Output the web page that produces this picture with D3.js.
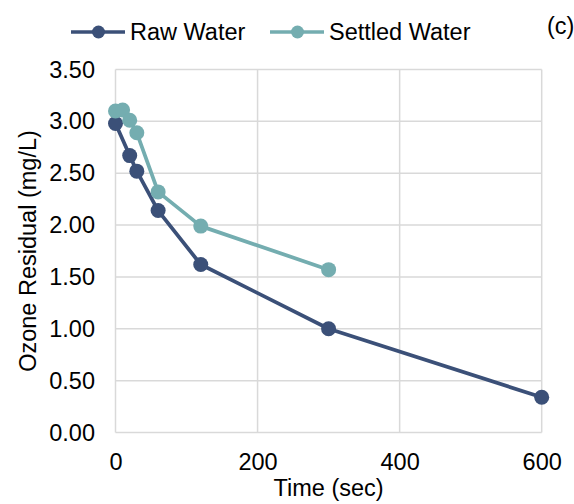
<!DOCTYPE html>
<html>
<head>
<meta charset="utf-8">
<script src="https://cdn.jsdelivr.net/npm/d3@7"></script>
<style>
  body { margin: 0; background: #fff; }
  svg { font-family: "Liberation Sans", Arial, sans-serif; }
</style>
</head>
<body>
<svg id="chart"></svg>
<script>
// data
const RAW_TIME = [0, 20, 30, 60, 120, 300, 600];
const RAW_VALUE = [2.98, 2.67, 2.52, 2.14, 1.62, 1.00, 0.34];
const SETTLED_TIME = [0, 10, 20, 30, 60, 120, 300];
const SETTLED_VALUE = [3.10, 3.11, 3.01, 2.89, 2.32, 1.99, 1.57];
const X_TICKS = [0, 200, 400, 600];
const Y_TICKS = [0, 0.5, 1, 1.5, 2, 2.5, 3, 3.5];

const SERIES = [
    {name: 'Raw Water', color: '#3b5078', pts: RAW_TIME.map((t, i) => ({t, v: RAW_VALUE[i]}))},
    {name: 'Settled Water', color: '#74adb0', pts: SETTLED_TIME.map((t, i) => ({t, v: SETTLED_VALUE[i]}))}
];

const WIDTH = 574, HEIGHT = 504;
const M = {left: 115.5, right: 574 - 541.7, top: 69.5, bottom: 504 - 432.5};
const FONT = 23.5;

const svg = d3.select('#chart').attr('width', WIDTH).attr('height', HEIGHT);

/* ************** SCALES ************** */
const x = d3.scaleLinear().domain([0, 600]).range([M.left, WIDTH - M.right]);
const y = d3.scaleLinear().domain([0, 3.5]).range([HEIGHT - M.bottom, M.top]);

/* ************** GRID ************** */
const grid = svg.append('g').attr('stroke', '#d9d9d9').attr('stroke-width', 1.5);
grid.selectAll('.hgrid').data(Y_TICKS).enter().append('line')
    .attr('x1', x(0)).attr('x2', x(600))
    .attr('y1', d => y(d)).attr('y2', d => y(d));
grid.selectAll('.vgrid').data(X_TICKS).enter().append('line')
    .attr('y1', y(0)).attr('y2', y(3.5))
    .attr('x1', d => x(d)).attr('x2', d => x(d));

/* ************** AXES ************** */
const yAxis = svg.append('g')
    .attr('transform', `translate(${x(0)},0)`)
    .call(d3.axisLeft(y).tickValues(Y_TICKS).tickFormat(d3.format('.2f')).tickSize(0).tickPadding(20.5));
const xAxis = svg.append('g')
    .attr('transform', `translate(0,${y(0)})`)
    .call(d3.axisBottom(x).tickValues(X_TICKS).tickFormat(d3.format('d')).tickSize(0).tickPadding(20.5));
[xAxis, yAxis].forEach(a => {
    a.select('.domain').remove();
    a.attr('font-size', FONT).attr('font-family', '"Liberation Sans", Arial, sans-serif');
    a.selectAll('text').attr('fill', '#000');
});

svg.append('text')
    .attr('x', (x(0) + x(600)) / 2).attr('y', 496)
    .attr('text-anchor', 'middle').attr('font-size', FONT)
    .text('Time (sec)');
svg.append('text')
    .attr('transform', `translate(36,${(y(0) + y(3.5)) / 2}) rotate(-90)`)
    .attr('text-anchor', 'middle').attr('font-size', FONT)
    .text('Ozone Residual (mg/L)');

/* ************** LINES ************** */
const line = d3.line().x(d => x(d.t)).y(d => y(d.v));
SERIES.forEach(s => {
    const g = svg.append('g');
    g.append('path').datum(s.pts)
        .attr('d', line).attr('fill', 'none')
        .attr('stroke', s.color).attr('stroke-width', 3.75).attr('stroke-linejoin', 'round');
    g.selectAll('circle').data(s.pts).enter().append('circle')
        .attr('cx', d => x(d.t)).attr('cy', d => y(d.v))
        .attr('r', 7.5).attr('fill', s.color);
});

/* ************** LEGEND ************** */
const LEGEND_X = [71, 270];
const legend = svg.append('g').selectAll('g').data(SERIES).enter().append('g')
    .attr('transform', (d, i) => `translate(${LEGEND_X[i]},32)`);
legend.append('line').attr('x1', 0).attr('x2', 54)
    .attr('stroke', d => d.color).attr('stroke-width', 3.5);
legend.append('circle').attr('cx', 27.5).attr('r', 6.5).attr('fill', d => d.color);
legend.append('text').attr('x', 59).attr('dy', '0.35em')
    .attr('font-size', FONT).text(d => d.name);

svg.append('text').attr('x', 547).attr('y', 26).attr('dy', '0.35em')
    .attr('font-size', FONT).text('(c)');
</script>
</body>
</html>
